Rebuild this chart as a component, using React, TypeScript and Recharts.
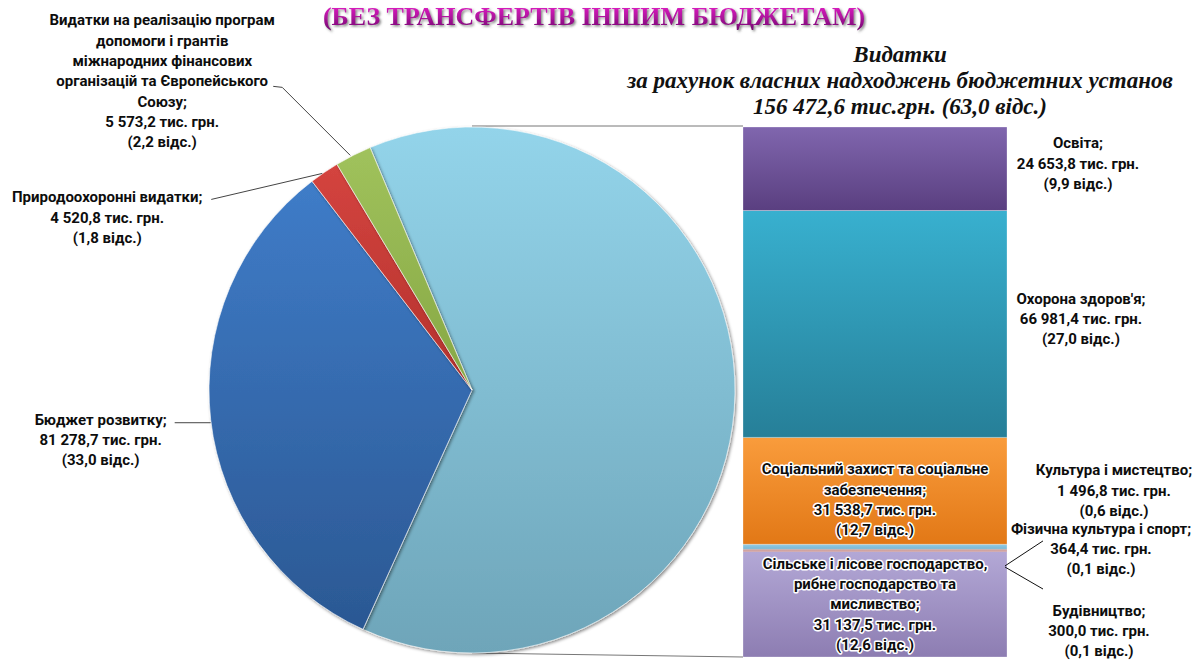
import React from 'react';
import { PieChart, Pie, Cell, BarChart, Bar, XAxis, YAxis } from 'recharts';

// ---------- DATA ----------
const pieCategories = [
  'Видатки за рахунок власних надходжень бюджетних установ',
  'Бюджет розвитку',
  'Природоохоронні видатки',
  'Видатки на реалізацію програм\nдопомоги і грантів\nміжнародних фінансових\nорганізацій та Європейського\nСоюзу',
];
const pieValues = [156472.6, 81278.7, 4520.8, 5573.2];
const piePercents = [63.0, 33.0, 1.8, 2.2];

const barCategories = [
  'Освіта',
  "Охорона здоров'я",
  'Соціальний захист та соціальне\nзабезпечення',
  'Культура і мистецтво',
  'Фізична культура і спорт',
  'Будівництво',
  'Сільське і лісове господарство,\nрибне господарство та\nмисливство',
];
const barValues = [24653.8, 66981.4, 31538.7, 1496.8, 364.4, 300.0, 31137.5];
const barPercents = [9.9, 27.0, 12.7, 0.6, 0.1, 0.1, 12.6];

const titleText = '(БЕЗ ТРАНСФЕРТІВ ІНШИМ БЮДЖЕТАМ)';
const subtitleLines = [
  'Видатки',
  'за рахунок власних надходжень бюджетних установ',
  '156 472,6 тис.грн. (63,0 відс.)',
];

// ---------- HELPERS ----------
const fmt = (v: number) => {
  const [i, d] = v.toFixed(1).split('.');
  return i.replace(/\B(?=(\d{3})+(?!\d))/g, ' ') + ',' + d;
};
const fmtPct = (p: number) => p.toFixed(1).replace('.', ',');

const labelLines = (name: string, value: number, pct: number) => [
  ...(name + ';').split('\n'),
  `${fmt(value)} тис. грн.`,
  `(${fmtPct(pct)} відс.)`,
];

const FONT = 'Roboto, "Open Sans", "DejaVu Sans", sans-serif';
const FS = 15;
const LH = 20.3;

// ---------- LAYOUT ----------
const PIE_CX = 472;
const PIE_CY = 390;
const PIE_R = 263;
const BAR_LEFT = 743;
const BAR_TOP = 127;
const BAR_HEIGHT = 530;
const BAR_WIDTH = 264;

const pieData = pieCategories.map((name, i) => ({ name, value: pieValues[i] }));
const barRow: Record<string, number | string> = { name: 'stack' };
barValues.forEach((v, i) => (barRow[`s${i}`] = v));
const barData = [barRow];
const barTotal = barValues.reduce((a, b) => a + b, 0);

const pieGrad = [
  ['#93d4ea', '#6ea5b9'],
  ['#3f7cc8', '#2b5893'],
  ['#d4443f', '#b3312d'],
  ['#a0c25c', '#86a744'],
];
const barGrad = [
  ['#8066ae', '#5a3f80'],
  ['#38b0cf', '#267f98'],
  ['#f99c3c', '#e27816'],
  ['#93cde6', '#7ab6d2'],
  ['#b0574f', '#9a4740'],
  ['#c0504d', '#a04040'],
  ['#b3a8d6', '#8d7db2'],
];

// label placement relative to slice edge / segment
const pieLabelLayout: Record<number, { dx: number; dy: number; pts: [number, number][] }> = {
  1: { dx: -110, dy: 5, pts: [[0, 3], [-36, 3]] },
  2: { dx: -217, dy: 30, pts: [[-2, 1], [-113, 27]] },
  3: { dx: -191, dy: -130, pts: [[-3, 0], [-71, -68], [-80, -69]] },
};

const barLabelLayout: Record<number, { inside?: boolean; dx: number; dy: number; leader?: [number, number] }> = {
  0: { dx: 71, dy: -5 },
  1: { dx: 74, dy: -5 },
  2: { inside: true, dx: 0, dy: 9 },
  3: { dx: 107, dy: -56 },
  4: { dx: 94, dy: -1, leader: [36, -25] },
  5: { dx: 92, dy: 80, leader: [36, 22] },
  6: { inside: true, dx: 0, dy: 0 },
};

const TextBlock = ({ x, cy, lines, halo }: { x: number; cy: number; lines: string[]; halo?: boolean }) => {
  const n = lines.length;
  return (
    <g>
      {lines.map((t, k) => (
        <text
          key={k}
          x={x}
          y={cy + (k - (n - 1) / 2) * LH + 5}
          textAnchor="middle"
          fontFamily={FONT}
          fontWeight={700}
          fontSize={FS}
          fill="#0d0d0d"
          stroke={halo ? '#ffffff' : 'none'}
          strokeWidth={halo ? 3 : 0}
          strokeLinejoin="round"
          style={{ paintOrder: 'stroke' }}
        >
          {t}
        </text>
      ))}
    </g>
  );
};

const renderPieLabel = (props: any) => {
  const { cx, cy, midAngle, outerRadius, index } = props;
  const cfg = pieLabelLayout[index];
  if (!cfg) return null;
  const RAD = Math.PI / 180;
  const ex = cx + outerRadius * Math.cos(-midAngle * RAD);
  const ey = cy + outerRadius * Math.sin(-midAngle * RAD);
  const lines = labelLines(pieCategories[index], pieValues[index], piePercents[index]);
  const n = lines.length;
  const pts = cfg.pts.map(([a, b]) => `${ex + a},${ey + b}`).join(' ');
  return (
    <g key={`pl${index}`}>
      <polyline points={pts} fill="none" stroke="#444" strokeWidth={1} />
      <TextBlock x={ex + cfg.dx} cy={ey + cfg.dy + ((n - 1) / 2) * LH - 5} lines={lines} />
    </g>
  );
};

const makeBarLabel = (i: number) => (props: any) => {
  const vb = props.viewBox && props.viewBox.width !== undefined ? props.viewBox : props;
  const x = Number(vb.x);
  const y = Number(vb.y);
  const w = Number(vb.width);
  const h = Number(vb.height);
  const cfg = barLabelLayout[i];
  const lines = labelLines(barCategories[i], barValues[i], barPercents[i]);
  const mid = y + h / 2;
  const right = x + w;
  if (cfg.inside) {
    return <TextBlock x={x + w / 2 + cfg.dx} cy={mid + cfg.dy} lines={lines} halo />;
  }
  return (
    <g>
      {cfg.leader && (
        <line x1={right - 2} y1={mid + 16} x2={right + cfg.leader[0]} y2={mid + 16 + cfg.leader[1]} stroke="#111" strokeWidth={1} />
      )}
      <TextBlock x={right + cfg.dx} cy={mid + cfg.dy} lines={lines} />
    </g>
  );
};

export default function App() {
  const order = barValues.map((_, i) => i).reverse(); // bottom of stack first
  return (
    <div style={{ position: 'absolute', left: 0, top: 0, width: 1197, height: 660, background: '#fff', overflow: 'hidden' }}>
      {/* connector lines */}
      <svg width={1197} height={660} style={{ position: 'absolute', left: 0, top: 0 }}>
        <line x1={PIE_CX} y1={BAR_TOP - 1} x2={BAR_LEFT} y2={BAR_TOP - 1} stroke="#777" strokeWidth={1} />
        <line x1={PIE_CX} y1={PIE_CY + PIE_R} x2={BAR_LEFT} y2={BAR_TOP + BAR_HEIGHT} stroke="#777" strokeWidth={1} />
      </svg>

      <div style={{ position: 'absolute', left: 0, top: 0 }}>
        <PieChart width={760} height={660} margin={{ top: 0, right: 0, bottom: 0, left: 0 }}>
          <defs>
            {pieGrad.map((g, i) => (
              <linearGradient key={i} id={`pg${i}`} x1="0" y1="0" x2="0" y2="1">
                <stop offset="0%" stopColor={g[0]} />
                <stop offset="100%" stopColor={g[1]} />
              </linearGradient>
            ))}
            <filter id="pshadow" x="-10%" y="-10%" width="120%" height="120%">
              <feDropShadow dx="1.5" dy="1.5" stdDeviation="1.5" floodColor="#000" floodOpacity="0.45" />
            </filter>
          </defs>
          <Pie
            data={pieData}
            dataKey="value"
            nameKey="name"
            cx={PIE_CX}
            cy={PIE_CY}
            outerRadius={PIE_R}
            startAngle={112.8}
            endAngle={-247.2}
            stroke="#ffffff"
            strokeWidth={0.6}
            label={renderPieLabel}
            labelLine={false}
            isAnimationActive={false}
          >
            {pieData.map((_, i) => (
              <Cell key={i} fill={`url(#pg${i})`} filter="url(#pshadow)" />
            ))}
          </Pie>
        </PieChart>
      </div>

      <div style={{ position: 'absolute', left: BAR_LEFT, top: 0 }}>
        <BarChart
          width={1197 - BAR_LEFT}
          height={660}
          data={barData}
          margin={{ top: BAR_TOP, bottom: 660 - BAR_TOP - BAR_HEIGHT, left: 0, right: 1197 - BAR_LEFT - BAR_WIDTH }}
          barCategoryGap={0}
          style={{ overflow: 'visible' }}
        >
          <defs>
            {barGrad.map((g, i) => (
              <linearGradient key={i} id={`bg${i}`} x1="0" y1="0" x2="0" y2="1">
                <stop offset="0%" stopColor={g[0]} />
                <stop offset="100%" stopColor={g[1]} />
              </linearGradient>
            ))}
          </defs>
          <XAxis dataKey="name" hide />
          <YAxis hide domain={[0, barTotal]} />
          {order.map((i) => (
            <Bar
              key={i}
              dataKey={`s${i}`}
              stackId="a"
              fill={`url(#bg${i})`}
              stroke="rgba(255,255,255,0.35)"
              strokeWidth={0.8}
              label={makeBarLabel(i)}
              isAnimationActive={false}
            />
          ))}
        </BarChart>
      </div>

      {/* titles */}
      <svg width={1197} height={660} style={{ position: 'absolute', left: 0, top: 0, pointerEvents: 'none' }}>
        <defs>
          <linearGradient id="tg" x1="0" y1="0" x2="0" y2="1">
            <stop offset="0%" stopColor="#f020d0" />
            <stop offset="100%" stopColor="#70086e" />
          </linearGradient>
          <filter id="tshadow" x="-5%" y="-30%" width="110%" height="160%">
            <feDropShadow dx="1.5" dy="1.5" stdDeviation="1" floodColor="#555" floodOpacity="0.7" />
          </filter>
        </defs>
        <text
          x={594}
          y={25}
          textAnchor="middle"
          fontFamily='"Liberation Serif", "DejaVu Serif", serif'
          fontWeight={700}
          fontSize={26}
          fill="url(#tg)"
          filter="url(#tshadow)"
        >
          {titleText}
        </text>
        {subtitleLines.map((t, k) => (
          <text
            key={k}
            x={900}
            y={62 + k * 26}
            textAnchor="middle"
            fontFamily='"Liberation Serif", "DejaVu Serif", serif'
            fontWeight={700}
            fontStyle="italic"
            fontSize={23}
            fill="#111"
          >
            {t}
          </text>
        ))}
      </svg>
    </div>
  );
}
